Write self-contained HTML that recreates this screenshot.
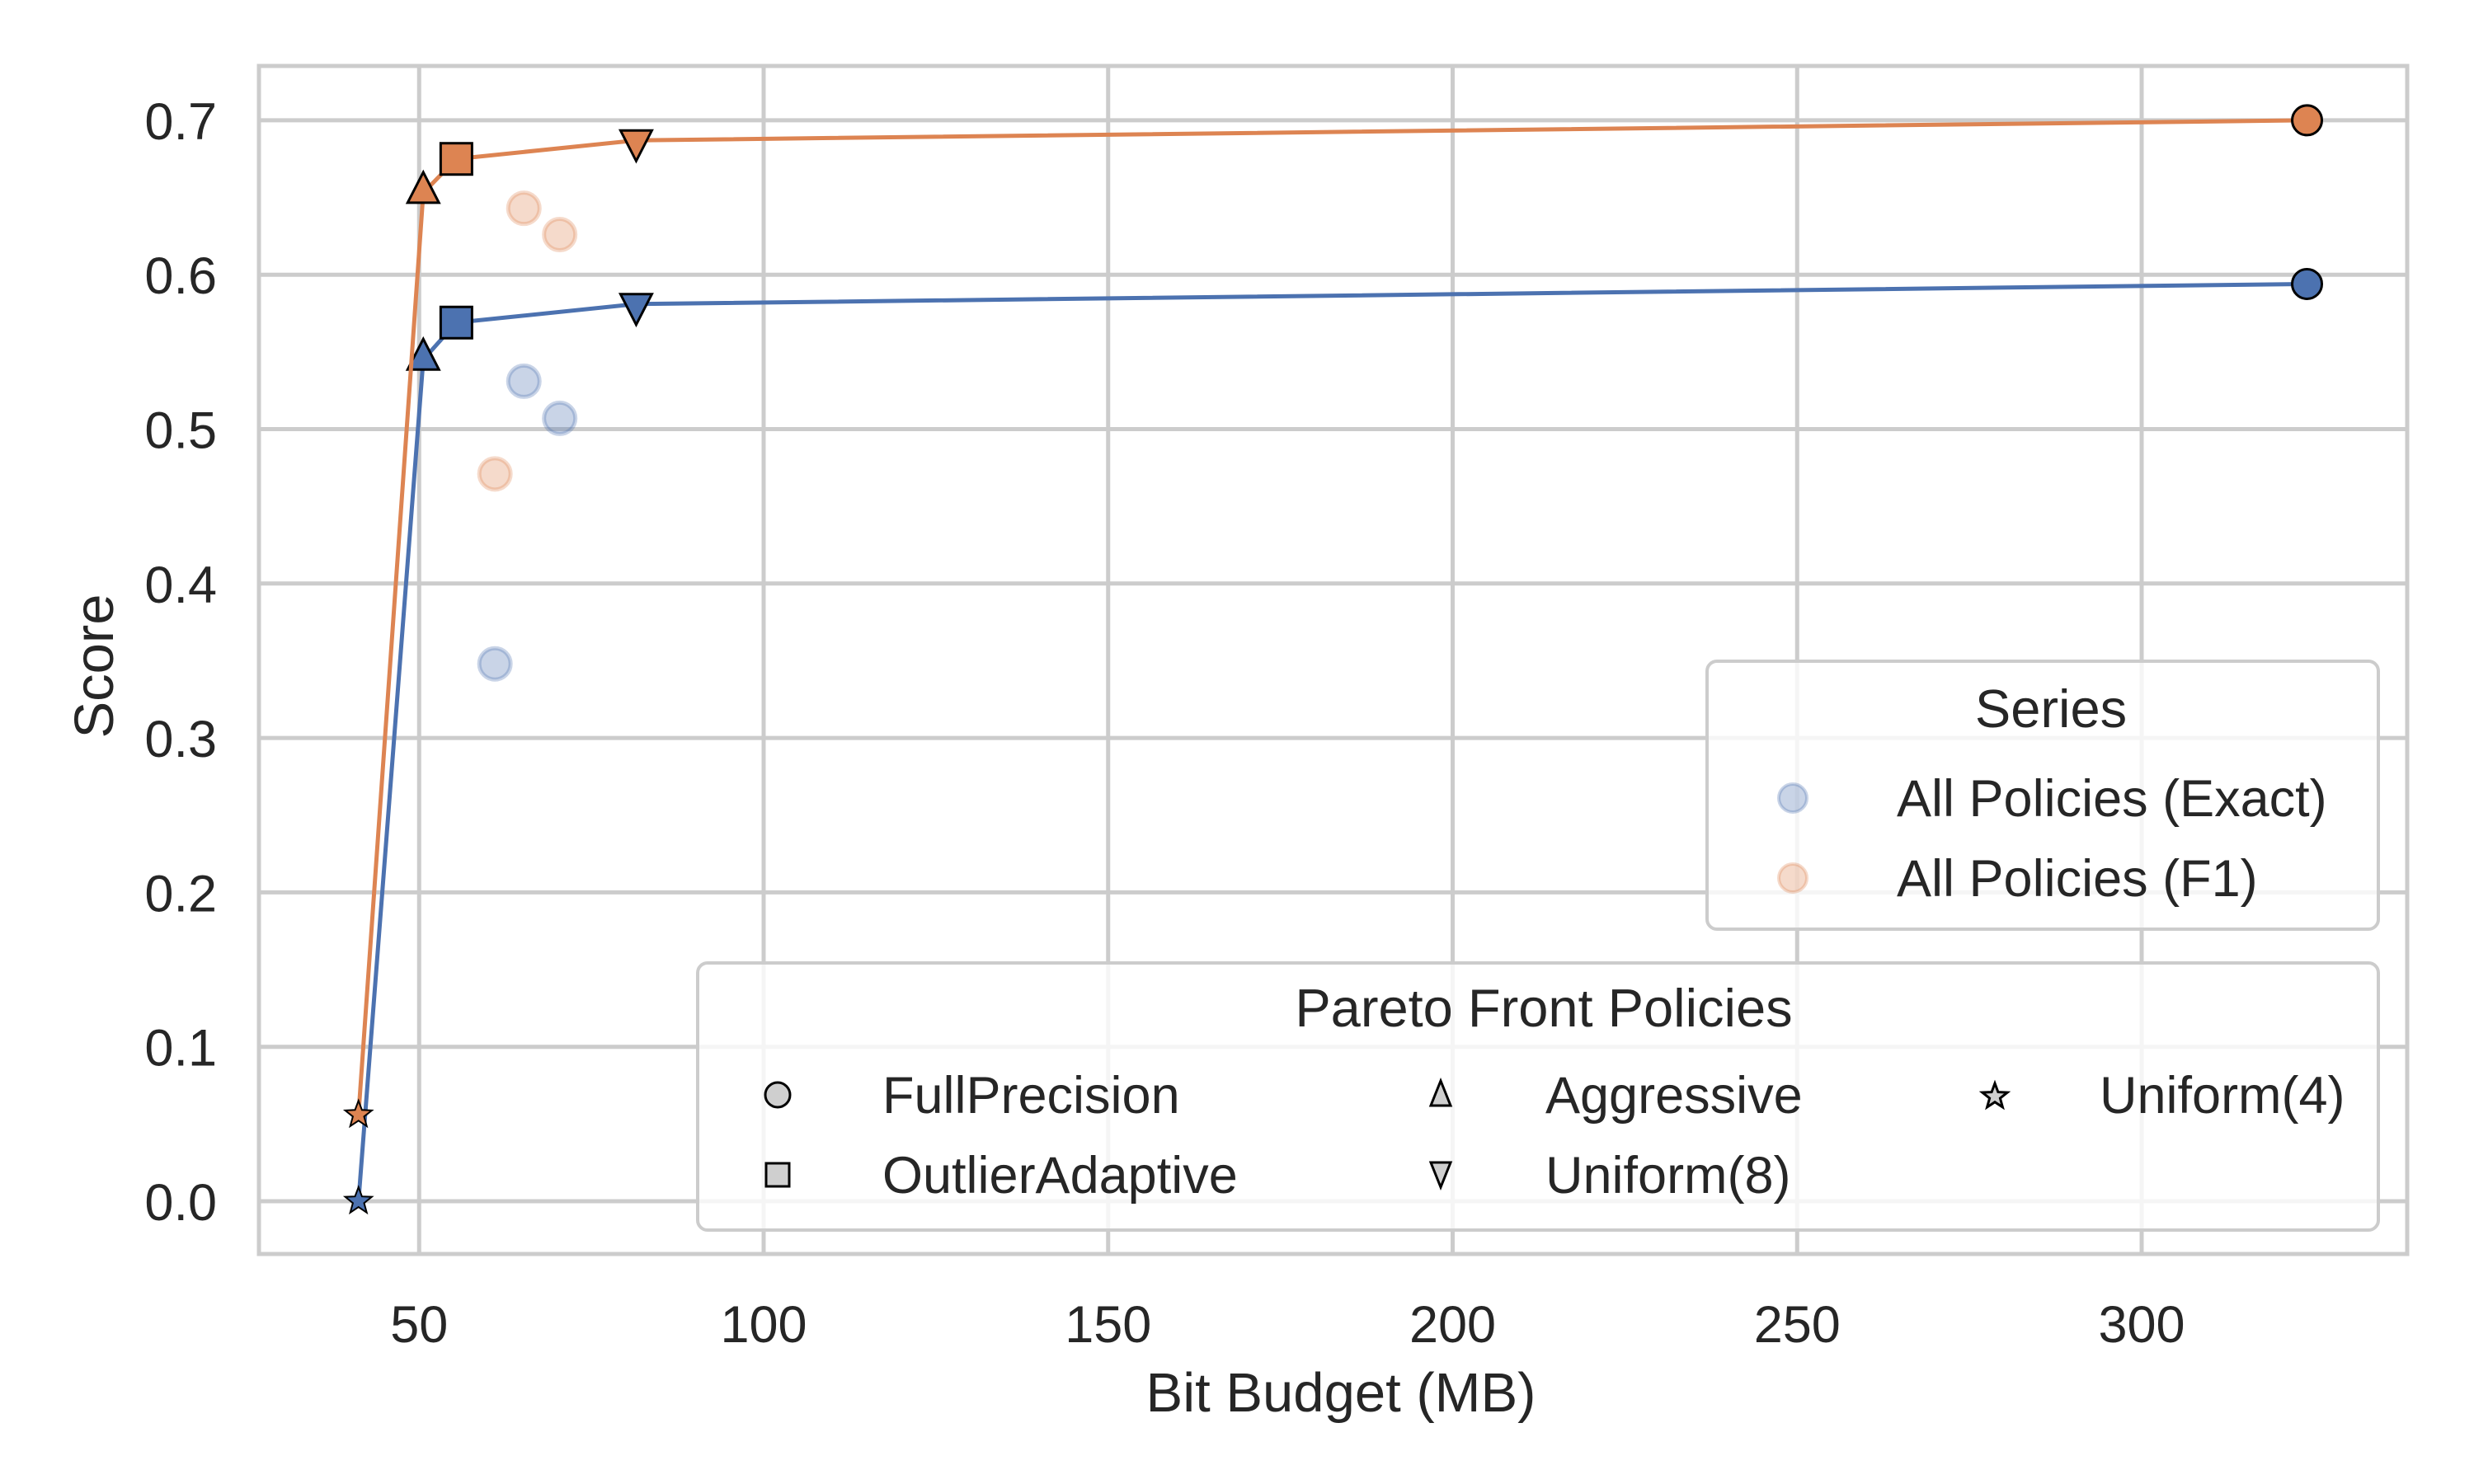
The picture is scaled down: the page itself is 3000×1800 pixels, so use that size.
<!DOCTYPE html>
<html><head><meta charset="utf-8"><style>
html,body{margin:0;padding:0;background:#fff;}
svg{display:block;font-family:"Liberation Sans",Arial,sans-serif;}
</style></head><body>
<svg id="chart" width="3000" height="1800" viewBox="0 0 3000 1800" xmlns="http://www.w3.org/2000/svg">
<g id="grid"></g>
<g id="faint"></g>
<g id="lines"></g>
<g id="ticks"></g>
<rect x="314" y="80" width="2605" height="1441" fill="none" stroke="#cccccc" stroke-width="5"/>
<text x="1626" y="1712" font-size="67" fill="#262626" text-anchor="middle">Bit Budget (MB)</text>
<text transform="translate(137,808) rotate(-90)" font-size="67" fill="#262626" text-anchor="middle">Score</text>

<g>
<rect x="2070" y="802" width="814" height="325" rx="12" fill="#fff" fill-opacity="0.8" stroke="#cccccc" stroke-width="4"/>
<text x="2487" y="882" font-size="65" fill="#262626" text-anchor="middle">Series</text>
<circle cx="2174" cy="968" r="17" fill="#4c72b0" fill-opacity="0.3" stroke="#4c72b0" stroke-opacity="0.3" stroke-width="4"/>
<text x="2300" y="990" font-size="63" fill="#262626">All Policies (Exact)</text>
<circle cx="2174" cy="1065" r="17" fill="#dd8452" fill-opacity="0.3" stroke="#dd8452" stroke-opacity="0.3" stroke-width="4"/>
<text x="2300" y="1087" font-size="63" fill="#262626">All Policies (F1)</text>
</g>

<g>
<rect x="846" y="1168" width="2038" height="324" rx="12" fill="#fff" fill-opacity="0.8" stroke="#cccccc" stroke-width="4"/>
<text x="1872" y="1245" font-size="65" fill="#262626" text-anchor="middle">Pareto Front Policies</text>
<circle cx="943" cy="1328" r="15" fill="#cfcfcf" stroke="#000" stroke-width="3"/>
<text x="1070" y="1350" font-size="63" fill="#262626">FullPrecision</text>
<rect x="929" y="1411" width="28" height="28" fill="#cfcfcf" stroke="#000" stroke-width="3"/>
<text x="1070" y="1447" font-size="63" fill="#262626">OutlierAdaptive</text>
<polygon points="1747,1311 1735,1341 1759,1341" fill="#cfcfcf" stroke="#000" stroke-width="3"/>
<text x="1874" y="1350" font-size="63" fill="#262626">Aggressive</text>
<polygon points="1747,1440 1735,1410 1759,1410" fill="#cfcfcf" stroke="#000" stroke-width="3"/>
<text x="1874" y="1447" font-size="63" fill="#262626">Uniform(8)</text>
<polygon id="lstar" fill="#cfcfcf" stroke="#000" stroke-width="3"/>
<text x="2546" y="1350" font-size="63" fill="#262626">Uniform(4)</text>
</g>
</svg>
<script>
const xTicks = [50, 100, 150, 200, 250, 300];
const yTicks = [0.0, 0.1, 0.2, 0.3, 0.4, 0.5, 0.6, 0.7];
const policies = ["Uniform(4)", "Aggressive", "OutlierAdaptive", "Uniform(8)", "FullPrecision"];
const paretoX = [41.2, 50.6, 55.4, 81.5, 324];
const exactY = [0.0, 0.545, 0.569, 0.581, 0.594];
const f1Y = [0.056, 0.653, 0.675, 0.687, 0.700];
const allX = [61, 65.2, 70.4];
const allExactY = [0.348, 0.531, 0.507];
const allF1Y = [0.471, 0.643, 0.626];

const NS = "http://www.w3.org/2000/svg";
const X = v => 90.5 + v * 8.355;
const Y = v => 1457 - v * 1873;
function mk(tag, attrs, parent) {
  const e = document.createElementNS(NS, tag);
  for (const k in attrs) e.setAttribute(k, attrs[k]);
  parent.appendChild(e);
  return e;
}
const grid = document.getElementById('grid'), ticks = document.getElementById('ticks');
xTicks.forEach(t => {
  const l = mk('line', {x1: X(t), x2: X(t), y1: 80, y2: 1521, stroke: '#cccccc', 'stroke-width': 5}, grid);
  
  
  const tx = mk('text', {x: X(t), y: 1628, 'font-size': 63, fill: '#262626', 'text-anchor': 'middle'}, ticks);
  tx.textContent = t;
  
  
});
yTicks.forEach(t => {
  const l = mk('line', {x1: 314, x2: 2919, y1: Y(t), y2: Y(t), stroke: '#cccccc', 'stroke-width': 5}, grid);
  
  
  const tx = mk('text', {x: 263, y: Y(t) + 23, 'font-size': 63, fill: '#262626', 'text-anchor': 'end'}, ticks);
  tx.textContent = t.toFixed(1);
  
  
});
const faint = document.getElementById('faint');
function faintPts(ys, col, name) {
  allX.forEach((x, i) => {
    const c = mk('circle', {cx: X(x), cy: Y(ys[i]), r: 19, fill: col, 'fill-opacity': 0.3, stroke: col, 'stroke-opacity': 0.3, 'stroke-width': 5}, faint);
    
    
  });
}
faintPts(allExactY, '#4c72b0', 'exact-policy-point');
faintPts(allF1Y, '#dd8452', 'f1-policy-point');
function star(cx, cy, R) {
  const r = R * 0.42, p = [];
  for (let i = 0; i < 10; i++) {
    const a = -Math.PI / 2 + i * Math.PI / 5, rr = i % 2 ? r : R;
    p.push((cx + rr * Math.cos(a)).toFixed(1) + ',' + (cy + rr * Math.sin(a)).toFixed(1));
  }
  return p.join(' ');
}
document.getElementById('lstar').setAttribute('points', star(2419, 1330, 16));
const lines = document.getElementById('lines');
function series(ys, col, name) {
  const pl = mk('polyline', {points: paretoX.map((x, i) => X(x) + ',' + Y(ys[i])).join(' '), fill: 'none', stroke: col, 'stroke-width': 5, 'stroke-linejoin': 'round'}, lines);
  
  
  paretoX.forEach((x, i) => {
    const cx = X(x), cy = Y(ys[i]), p = policies[i];
    let m;
    const st = {fill: col, stroke: '#000', 'stroke-width': 3};
    if (p === 'FullPrecision') m = mk('circle', Object.assign({cx, cy, r: 18}, st), lines);
    else if (p === 'OutlierAdaptive') m = mk('rect', Object.assign({x: cx - 19, y: cy - 19, width: 38, height: 38}, st), lines);
    else if (p === 'Aggressive') m = mk('polygon', Object.assign({points: `${cx},${cy - 25} ${cx - 19},${cy + 12} ${cx + 19},${cy + 12}`}, st), lines);
    else if (p === 'Uniform(8)') m = mk('polygon', Object.assign({points: `${cx},${cy + 25} ${cx - 19},${cy - 12} ${cx + 19},${cy - 12}`}, st), lines);
    else m = mk('polygon', Object.assign({points: star(cx, cy, 17)}, st, {'stroke-width': 2}), lines);
    
    
  });
}
series(exactY, '#4c72b0', 'exact-pareto');
series(f1Y, '#dd8452', 'f1-pareto');
</script>
</body></html>
